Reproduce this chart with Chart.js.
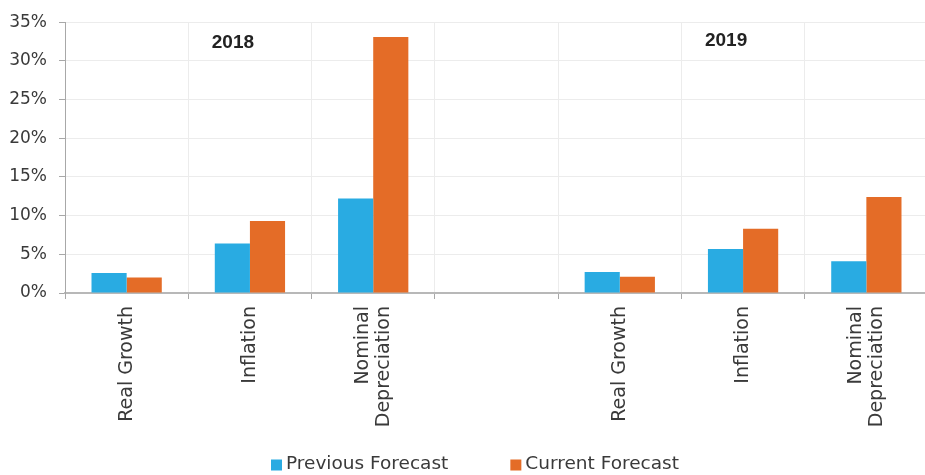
<!DOCTYPE html>
<html>
<head>
<meta charset="utf-8">
<title>Forecast Comparison</title>
<script src="https://cdn.jsdelivr.net/npm/chart.js@4/dist/chart.umd.min.js"></script>
<style>
    html, body { margin: 0; padding: 0; background: #fff; overflow: hidden; }
    .chart-wrap { position: relative; width: 928px; height: 475px; }
</style>
</head>
<body>
<div class="chart-wrap">
    <canvas id="forecastChart"></canvas>
</div>
<script>
// Chart data
const categories = [
    ['Real Growth'],
    ['Inflation'],
    ['Nominal', 'Depreciation'],
    [''],
    ['Real Growth'],
    ['Inflation'],
    ['Nominal', 'Depreciation']
];
const yearLabels = ['2018', '2019'];
const yearGroupCenters = [1, 5]; // category index each year label sits over
const seriesNames = ['Previous Forecast', 'Current Forecast'];
const previousForecast = [2.6, 6.4, 12.2, null, 2.7, 5.7, 4.1];
const currentForecast = [2.0, 9.3, 33.1, null, 2.1, 8.3, 12.4];
const yTickValues = [0, 5, 10, 15, 20, 25, 30, 35];

const BLUE = '#29ABE2';
const ORANGE = '#E46C27';
const TEXT = '#3a3a3a';
const FONT = '"DejaVu Sans", sans-serif';

// Category labels, year headers and legend drawn on the canvas
const extraLabels = {
    id: 'extraLabels',
    afterDraw(chart) {
        const ctx = chart.ctx;
        const x = chart.scales.x;
        const area = chart.chartArea;

        // Rotated category labels
        ctx.save();
        ctx.fillStyle = TEXT;
        ctx.font = '19px ' + FONT;
        ctx.textAlign = 'right';
        ctx.textBaseline = 'middle';
        const lineHeight = 21;
        categories.forEach((lines, i) => {
            const px = x.getPixelForTick(i);
            ctx.save();
            ctx.translate(px, area.bottom + 13);
            ctx.rotate(-Math.PI / 2);
            lines.forEach((line, j) => {
                ctx.fillText(line, 0, (j - (lines.length - 1) / 2) * lineHeight);
            });
            ctx.restore();
        });
        ctx.restore();

        // Year headers
        ctx.save();
        ctx.fillStyle = '#222';
        ctx.font = 'bold 19px "Liberation Sans", Arial, sans-serif';
        ctx.textAlign = 'center';
        ctx.textBaseline = 'middle';
        yearLabels.forEach((year, i) => {
            ctx.fillText(year, x.getPixelForTick(yearGroupCenters[i]) - 17, area.top + 21 - i * 2);
        });
        ctx.restore();

        // Legend
        ctx.save();
        ctx.font = '18.5px ' + FONT;
        ctx.textBaseline = 'middle';
        ctx.textAlign = 'left';
        const box = 11, boxGap = 4, itemGap = 62;
        const widths = chart.data.datasets.map(ds => box + boxGap + ctx.measureText(ds.label).width);
        const total = widths.reduce((a, b) => a + b, 0) + itemGap * (widths.length - 1);
        let lx = 475 - total / 2;
        const ly = 464;
        chart.data.datasets.forEach((ds, i) => {
            ctx.fillStyle = ds.backgroundColor;
            ctx.fillRect(lx, ly - box / 2 + 1, box, box);
            ctx.fillStyle = TEXT;
            ctx.fillText(ds.label, lx + box + boxGap, ly);
            lx += widths[i] + itemGap;
        });
        ctx.restore();
    }
};

const ctx = document.getElementById('forecastChart').getContext('2d');

new Chart(ctx, {
    type: 'bar',
    data: {
        labels: categories.map(c => c.join(' ')),
        datasets: [
            {
                label: seriesNames[0],
                data: previousForecast,
                backgroundColor: BLUE
            },
            {
                label: seriesNames[1],
                data: currentForecast,
                backgroundColor: ORANGE
            }
        ]
    },
    options: {
        responsive: true,
        maintainAspectRatio: false,
        animation: false,
        categoryPercentage: 0.57,
        barPercentage: 1.0,
        layout: {
            padding: { top: 20, left: 0, right: 0, bottom: 0 }
        },
        plugins: {
            legend: { display: false },
            tooltip: { enabled: false }
        },
        scales: {
            x: {
                grid: {
                    offset: true,
                    color: '#ececec',
                    tickColor: '#a8a8a8',
                    tickLength: 6
                },
                border: { color: '#b8b8b8', width: 2 },
                ticks: { display: false },
                afterFit: function(scale) {
                    scale.height = 182;
                }
            },
            y: {
                min: 0,
                max: 35,
                afterBuildTicks: function(scale) {
                    scale.ticks = yTickValues.map(v => ({ value: v }));
                },
                grid: {
                    color: '#ececec',
                    tickColor: '#a8a8a8',
                    tickLength: 6
                },
                border: { color: '#a8a8a8', width: 1 },
                ticks: {
                    padding: 12,
                    color: TEXT,
                    font: { family: FONT, size: 17 },
                    callback: function(value) {
                        return value + '%';
                    }
                },
                afterFit: function(scale) {
                    scale.width = 65;
                }
            }
        }
    },
    plugins: [extraLabels]
});
</script>
</body>
</html>
